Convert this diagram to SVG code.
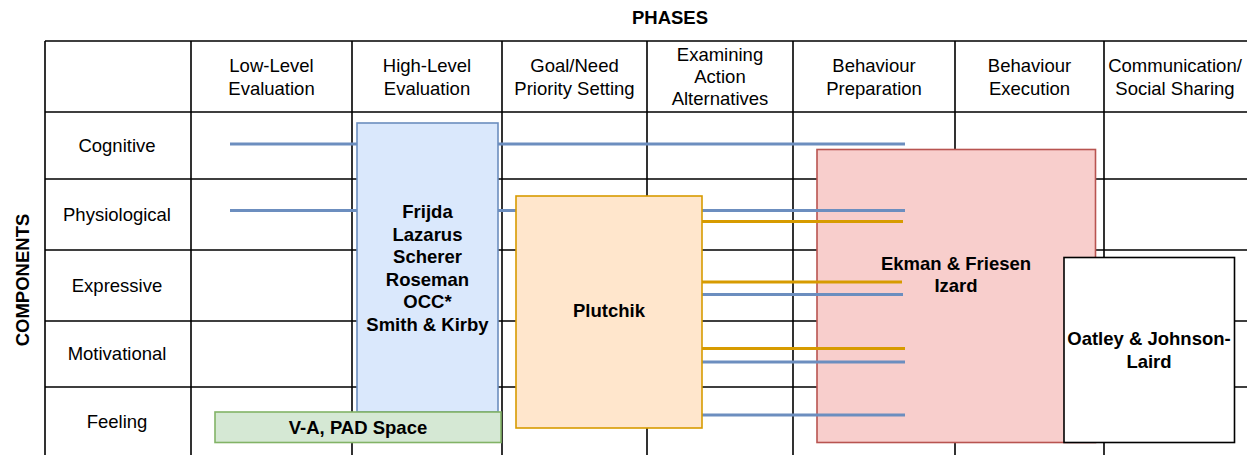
<svg xmlns="http://www.w3.org/2000/svg" width="1247" height="455" viewBox="0 0 1247 455">
  <style>
    .grid { stroke: #000; stroke-width: 1.6; fill: none; }
    .hdr { font-family: "Liberation Sans", Arial, sans-serif; font-size: 18.5px; fill: #000; text-anchor: middle; }
    .bold { font-family: "Liberation Sans", Arial, sans-serif; font-size: 18.5px; font-weight: bold; fill: #000; text-anchor: middle; }
    .blue-line { stroke: #6c8ebf; stroke-width: 3; fill: none; }
    .orange-line { stroke: #d79b00; stroke-width: 3; fill: none; }
    .box { stroke-width: 1.6; }
  </style>
  <rect width="1247" height="455" fill="#ffffff"/>

  <!-- table grid (runs past the right and bottom edges) -->
  <g id="table">
    <path class="grid" d="M45,41 H1247 M45,112 H1247 M45,179 H1247 M45,250 H1247 M45,321 H1247 M45,387 H1247
      M45,41 V455 M191,41 V455 M352,41 V455 M502,41 V455 M647,41 V455 M793,41 V455 M955,41 V455 M1104,41 V455"/>
  </g>

  <!-- axis titles -->
  <text class="bold" x="670" y="23.5">PHASES</text>
  <text class="bold" transform="translate(28.5,280) rotate(-90)" x="0" y="0">COMPONENTS</text>

  <!-- phase headers -->
  <g id="phase-headers">
    <text class="hdr" x="271.5" y="71.5">Low-Level</text>
    <text class="hdr" x="271.5" y="94.5">Evaluation</text>
    <text class="hdr" x="427" y="71.5">High-Level</text>
    <text class="hdr" x="427" y="94.5">Evaluation</text>
    <text class="hdr" x="574.5" y="71.5">Goal/Need</text>
    <text class="hdr" x="574.5" y="94.5">Priority Setting</text>
    <text class="hdr" x="720" y="61">Examining</text>
    <text class="hdr" x="720" y="83">Action</text>
    <text class="hdr" x="720" y="105">Alternatives</text>
    <text class="hdr" x="874" y="71.5">Behaviour</text>
    <text class="hdr" x="874" y="94.5">Preparation</text>
    <text class="hdr" x="1029.5" y="71.5">Behaviour</text>
    <text class="hdr" x="1029.5" y="94.5">Execution</text>
    <text class="hdr" x="1175" y="71.5">Communication/</text>
    <text class="hdr" x="1175" y="94.5">Social Sharing</text>
  </g>

  <!-- component rows -->
  <g id="component-rows">
    <text class="hdr" x="117" y="152">Cognitive</text>
    <text class="hdr" x="117" y="221">Physiological</text>
    <text class="hdr" x="117" y="292">Expressive</text>
    <text class="hdr" x="117" y="360">Motivational</text>
    <text class="hdr" x="117" y="428">Feeling</text>
  </g>

  <!-- Ekman & Friesen / Izard -->
  <g id="ekman">
    <rect class="box" x="817" y="149.5" width="278.5" height="293" fill="#f8cecc" stroke="#b85450"/>
    <text class="bold" x="956" y="269.5">Ekman &amp; Friesen</text>
    <text class="bold" x="956" y="292">Izard</text>
  </g>

  <!-- component coverage lines -->
  <g id="connectors">
    <line class="blue-line" x1="230" y1="144" x2="905" y2="144"/>
    <line class="blue-line" x1="230" y1="210.5" x2="905" y2="210.5"/>
    <line class="orange-line" x1="702" y1="221.5" x2="903" y2="221.5"/>
    <line class="orange-line" x1="702" y1="282" x2="902" y2="282"/>
    <line class="blue-line" x1="702" y1="294.5" x2="903" y2="294.5"/>
    <line class="orange-line" x1="702" y1="348.5" x2="905" y2="348.5"/>
    <line class="blue-line" x1="702" y1="362" x2="905" y2="362"/>
    <line class="blue-line" x1="702" y1="415" x2="905" y2="415"/>
  </g>

  <!-- appraisal theories -->
  <g id="appraisal">
    <rect class="box" x="357" y="123" width="141" height="289" fill="#dae8fc" stroke="#6c8ebf"/>
    <text class="bold" x="427.5" y="218">Frijda</text>
    <text class="bold" x="427.5" y="240.5">Lazarus</text>
    <text class="bold" x="427.5" y="263">Scherer</text>
    <text class="bold" x="427.5" y="285.5">Roseman</text>
    <text class="bold" x="427.5" y="308">OCC*</text>
    <text class="bold" x="427.5" y="330.5">Smith &amp; Kirby</text>
  </g>

  <!-- Plutchik -->
  <g id="plutchik">
    <rect class="box" x="516" y="196" width="186" height="232" fill="#ffe6cc" stroke="#d79b00"/>
    <text class="bold" x="609" y="317">Plutchik</text>
  </g>

  <!-- dimensional spaces -->
  <g id="dimensional">
    <rect class="box" x="215" y="412" width="286" height="30.5" fill="#d5e8d4" stroke="#82b366"/>
    <text class="bold" x="358" y="433.5">V-A, PAD Space</text>
  </g>

  <!-- Oatley & Johnson-Laird -->
  <g id="oatley">
    <rect class="box" x="1064" y="257.5" width="170.5" height="185" fill="#ffffff" stroke="#000000"/>
    <text class="bold" x="1149" y="345">Oatley &amp; Johnson-</text>
    <text class="bold" x="1149" y="367.5">Laird</text>
  </g>
</svg>
